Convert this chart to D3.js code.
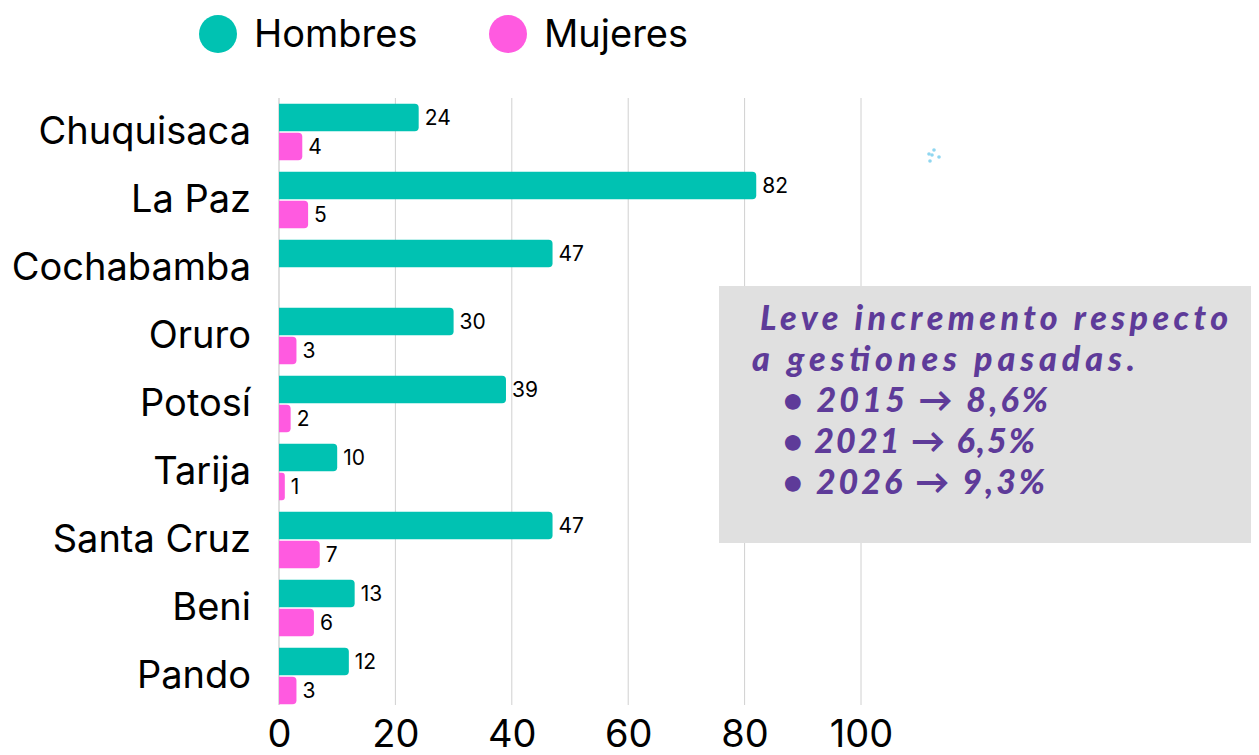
<!DOCTYPE html>
<html>
<head>
<meta charset="utf-8">
<script src="https://cdn.jsdelivr.net/npm/d3@7"></script>
<style>
  body { margin: 0; background: #fff; }
  svg { display: block; font-family: Inter, "Noto Sans", sans-serif; }
</style>
</head>
<body>
<div id="chart"></div>
<script>
const width = 1259;
const height = 755;

const departamentos = ["Chuquisaca", "La Paz", "Cochabamba", "Oruro", "Potosí", "Tarija", "Santa Cruz", "Beni", "Pando"];
const hombres = [24, 82, 47, 30, 39, 10, 47, 13, 12];
const mujeres = [4, 5, 0, 3, 2, 1, 7, 6, 3];
const series = ["Hombres", "Mujeres"];
const xTicks = [0, 20, 40, 60, 80, 100];
const nota = [
  "Leve incremento respecto",
  "a gestiones pasadas.",
  "• 2015  → 8,6%",
  "• 2021 → 6,5%",
  "• 2026 → 9,3%"
];

const colors = { Hombres: "#00c2b2", Mujeres: "#ff5ae0" };
const font = "Inter, Noto Sans, sans-serif";

const svg = d3.select("#chart").append("svg")
    .attr("width", width)
    .attr("height", height);

const x = d3.scaleLinear().domain([0, 100]).range([279, 861]);
const y = d3.scaleBand().domain(departamentos).range([98, 710]).paddingInner(0.17).paddingOuter(0.085);
const ySub = d3.scaleBand().domain(series).range([0, y.bandwidth()]).paddingInner(0.06);

// grid lines
svg.append("g")
    .selectAll("line")
    .data(xTicks.slice(1))
    .join("line")
    .attr("x1", d => x(d))
    .attr("x2", d => x(d))
    .attr("y1", 98)
    .attr("y2", 705)
    .attr("stroke", "#d0d0d0")
    .attr("stroke-width", 1);

// x axis labels
const xAxis = svg.append("g")
    .attr("transform", "translate(0,705)")
    .call(d3.axisBottom(x).tickValues(xTicks).tickSize(0).tickPadding(15));
xAxis.select(".domain").remove();
xAxis.selectAll("text")
    .attr("font-size", 38)
    .attr("font-family", font)
    .attr("fill", "#000");

// y axis line
svg.append("line")
    .attr("x1", x(0)).attr("x2", x(0))
    .attr("y1", 98).attr("y2", 705)
    .attr("stroke", "#bdbdbd");

// category labels
const yAxis = svg.append("g")
    .attr("transform", `translate(${x(0)},0)`)
    .call(d3.axisLeft(y).tickSize(0).tickPadding(28));
yAxis.select(".domain").remove();
yAxis.selectAll("text")
    .attr("font-size", 38)
    .attr("font-family", font)
    .attr("fill", "#000");

const rows = departamentos.flatMap((d, i) => [
  { dep: d, serie: "Hombres", value: hombres[i] },
  { dep: d, serie: "Mujeres", value: mujeres[i] }
]).filter(r => r.value > 0);

function barPath(x0, x1, y0, h, r) {
  const w = x1 - x0;
  r = Math.min(r, w / 2, h / 2);
  return `M${x0},${y0}H${x1 - r}Q${x1},${y0} ${x1},${y0 + r}V${y0 + h - r}Q${x1},${y0 + h} ${x1 - r},${y0 + h}H${x0}Z`;
}

svg.append("g")
    .selectAll("path")
    .data(rows)
    .join("path")
    .attr("d", d => barPath(x(0), x(d.value), y(d.dep) + ySub(d.serie), ySub.bandwidth(), 4))
    .attr("fill", d => colors[d.serie]);

svg.append("g")
    .selectAll("text")
    .data(rows)
    .join("text")
    .attr("x", d => x(d.value) + 6)
    .attr("y", d => y(d.dep) + ySub(d.serie) + ySub.bandwidth() / 2)
    .attr("dy", "0.35em")
    .attr("font-size", 21)
    .attr("fill", "#000")
    .text(d => d.value);

// legend
const legend = svg.append("g")
    .selectAll("g")
    .data(series)
    .join("g")
    .attr("transform", (d, i) => `translate(${218 + i * 290},34)`);
legend.append("circle")
    .attr("r", 19)
    .attr("fill", d => colors[d]);
legend.append("text")
    .attr("x", 36)
    .attr("dy", "0.35em")
    .attr("font-size", 38)
    .attr("fill", "#000")
    .text(d => d);

// small decorative dots
const dots = [[934, 150], [929, 154], [932, 155], [930, 161], [939, 157]];
svg.append("g")
    .selectAll("circle")
    .data(dots)
    .join("circle")
    .attr("cx", d => d[0]).attr("cy", d => d[1])
    .attr("r", 1.8)
    .attr("fill", "#8fd6f0");

// annotation box
svg.append("rect")
    .attr("x", 719).attr("y", 286)
    .attr("width", 532).attr("height", 257)
    .attr("fill", "#e0e0e0");

const noteX = [760, 752, 783, 783, 783];
const noteW = [468, 383, 265, 252, 262];
svg.append("g")
    .selectAll("text")
    .data(nota)
    .join("text")
    .attr("x", (d, i) => noteX[i])
    .attr("y", (d, i) => 330 + i * 41)
    .attr("font-family", "Lato, sans-serif")
    .attr("font-style", "italic")
    .attr("font-weight", 900)
    .attr("font-size", 34)
    .attr("textLength", (d, i) => noteW[i])
    .attr("lengthAdjust", "spacing")
    .attr("fill", "#5e3b99")
    .text(d => d);
</script>
</body>
</html>
